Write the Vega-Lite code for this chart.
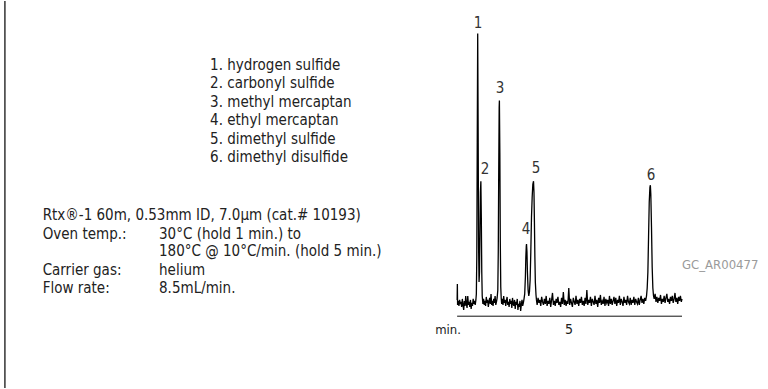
{
  "$schema": "https://vega.github.io/schema/vega-lite/v6.json",
  "width": 768,
  "height": 389,
  "padding": 0,
  "autosize": {"type": "fit", "contains": "padding"},
  "background": "white",
  "config": {"view": {"stroke": null}, "text": {"font": "DejaVu Sans Condensed, sans-serif"}},
  "datasets": {
    "trace": [
      {"t":0.05,"s":2},{"t":0.06,"s":18},{"t":0.07,"s":-3},{"t":0.10,"s":1},{"t":0.13,"s":-4},{"t":0.16,"s":2},{"t":0.19,"s":-2},{"t":0.22,"s":0},{"t":0.25,"s":-5},{"t":0.28,"s":3},{"t":0.31,"s":-3},{"t":0.34,"s":-8},{"t":0.37,"s":1},{"t":0.40,"s":-4},{"t":0.43,"s":6},{"t":0.46,"s":-2},{"t":0.49,"s":-6},{"t":0.52,"s":6},{"t":0.55,"s":-3},{"t":0.58,"s":0},{"t":0.61,"s":-5},{"t":0.64,"s":2},{"t":0.67,"s":-7},{"t":0.70,"s":-1},{"t":0.73,"s":-4},{"t":0.76,"s":3},{"t":0.79,"s":-2},{"t":0.82,"s":1},{"t":0.85,"s":-3},{"t":0.88,"s":2},
      {"t":0.90,"s":8},{"t":0.92,"s":45},{"t":0.94,"s":160},{"t":0.96,"s":269},{"t":0.98,"s":170},{"t":1.00,"s":55},{"t":1.02,"s":20},{"t":1.04,"s":30},{"t":1.06,"s":70},{"t":1.08,"s":110},{"t":1.10,"s":121},{"t":1.12,"s":85},{"t":1.14,"s":30},{"t":1.16,"s":6},{"t":1.19,"s":-2},
      {"t":1.22,"s":3},{"t":1.25,"s":-3},{"t":1.28,"s":1},{"t":1.31,"s":-4},{"t":1.34,"s":5},{"t":1.37,"s":-1},{"t":1.40,"s":2},{"t":1.43,"s":-5},{"t":1.46,"s":0},{"t":1.49,"s":4},{"t":1.52,"s":-2},{"t":1.55,"s":8},{"t":1.58,"s":-3},{"t":1.61,"s":1},{"t":1.64,"s":-4},{"t":1.67,"s":3},{"t":1.70,"s":-1},{"t":1.73,"s":6},{"t":1.76,"s":-3},{"t":1.79,"s":0},{"t":1.82,"s":4},
      {"t":1.85,"s":12},{"t":1.87,"s":50},{"t":1.89,"s":130},{"t":1.91,"s":195},{"t":1.92,"s":202},{"t":1.94,"s":150},{"t":1.96,"s":60},{"t":1.98,"s":15},{"t":2.00,"s":4},{"t":2.02,"s":-2},
      {"t":2.05,"s":3},{"t":2.08,"s":-3},{"t":2.11,"s":6},{"t":2.14,"s":-1},{"t":2.17,"s":2},{"t":2.20,"s":-4},{"t":2.23,"s":1},{"t":2.26,"s":5},{"t":2.29,"s":-3},{"t":2.32,"s":0},{"t":2.35,"s":-5},{"t":2.38,"s":3},{"t":2.41,"s":-2},{"t":2.44,"s":1},{"t":2.47,"s":-6},{"t":2.50,"s":4},{"t":2.53,"s":-2},{"t":2.56,"s":-4},{"t":2.59,"s":2},{"t":2.62,"s":-7},{"t":2.65,"s":0},{"t":2.68,"s":-3},{"t":2.71,"s":3},{"t":2.74,"s":-8},{"t":2.77,"s":-2},{"t":2.80,"s":-5},{"t":2.83,"s":1},{"t":2.86,"s":-9},{"t":2.89,"s":-3},{"t":2.92,"s":2},{"t":2.95,"s":-4},{"t":2.98,"s":-1},{"t":3.01,"s":3},
      {"t":3.04,"s":8},{"t":3.07,"s":25},{"t":3.09,"s":45},{"t":3.11,"s":56},{"t":3.12,"s":58},{"t":3.14,"s":50},{"t":3.16,"s":30},{"t":3.19,"s":12},{"t":3.22,"s":6},{"t":3.25,"s":10},{"t":3.28,"s":22},{"t":3.31,"s":50},{"t":3.34,"s":85},{"t":3.37,"s":105},{"t":3.40,"s":118},{"t":3.43,"s":121},{"t":3.45,"s":110},{"t":3.47,"s":80},{"t":3.49,"s":45},{"t":3.51,"s":20},{"t":3.54,"s":7},{"t":3.56,"s":2},
      {"t":3.59,"s":-3},{"t":3.63,"s":4},{"t":3.67,"s":-1},{"t":3.71,"s":2},{"t":3.75,"s":-4},{"t":3.79,"s":5},{"t":3.83,"s":0},{"t":3.87,"s":-3},{"t":3.91,"s":3},{"t":3.95,"s":-2},{"t":3.99,"s":6},{"t":4.03,"s":-4},{"t":4.07,"s":1},{"t":4.11,"s":-2},{"t":4.15,"s":4},{"t":4.19,"s":-5},{"t":4.23,"s":2},{"t":4.27,"s":9},{"t":4.31,"s":-3},{"t":4.35,"s":1},{"t":4.39,"s":-4},{"t":4.43,"s":3},{"t":4.47,"s":-1},{"t":4.51,"s":5},{"t":4.55,"s":-3},{"t":4.59,"s":0},{"t":4.63,"s":-5},{"t":4.67,"s":4},{"t":4.71,"s":-2},{"t":4.75,"s":10},{"t":4.79,"s":-3},{"t":4.83,"s":2},{"t":4.87,"s":-4},{"t":4.91,"s":1},{"t":4.95,"s":-2},{"t":4.99,"s":14},{"t":5.03,"s":-3},{"t":5.07,"s":3},{"t":5.11,"s":-1},{"t":5.15,"s":-5},{"t":5.19,"s":4},{"t":5.23,"s":0},{"t":5.27,"s":-3},{"t":5.31,"s":6},{"t":5.35,"s":-2},{"t":5.39,"s":2},{"t":5.43,"s":-4},{"t":5.47,"s":3},{"t":5.51,"s":-1},{"t":5.55,"s":5},{"t":5.59,"s":-3},{"t":5.63,"s":1},{"t":5.67,"s":-4},{"t":5.71,"s":4},{"t":5.75,"s":-2},{"t":5.79,"s":12},{"t":5.83,"s":-3},{"t":5.87,"s":2},{"t":5.91,"s":-1},{"t":5.95,"s":5},{"t":5.99,"s":-4},{"t":6.03,"s":3},{"t":6.07,"s":0},{"t":6.11,"s":-3},{"t":6.15,"s":6},{"t":6.19,"s":-2},{"t":6.23,"s":2},{"t":6.27,"s":-5},{"t":6.31,"s":4},{"t":6.35,"s":-1},{"t":6.39,"s":7},{"t":6.43,"s":-3},{"t":6.47,"s":1},{"t":6.51,"s":-2},{"t":6.55,"s":5},{"t":6.59,"s":-4},{"t":6.63,"s":3},{"t":6.67,"s":-1},{"t":6.71,"s":2},{"t":6.75,"s":-4},{"t":6.79,"s":6},{"t":6.83,"s":-2},{"t":6.87,"s":3},{"t":6.91,"s":-3},{"t":6.95,"s":1},{"t":6.99,"s":5},{"t":7.03,"s":-2},{"t":7.07,"s":4},{"t":7.11,"s":-4},{"t":7.15,"s":2},{"t":7.19,"s":-1},{"t":7.23,"s":6},{"t":7.27,"s":-3},{"t":7.31,"s":3},{"t":7.35,"s":0},{"t":7.39,"s":-4},{"t":7.43,"s":5},{"t":7.47,"s":-1},{"t":7.51,"s":2},{"t":7.55,"s":-3},{"t":7.59,"s":6},{"t":7.63,"s":0},{"t":7.67,"s":-2},{"t":7.71,"s":4},{"t":7.75,"s":-3},{"t":7.79,"s":2},{"t":7.83,"s":-1},{"t":7.87,"s":5},{"t":7.91,"s":-3},{"t":7.95,"s":3},{"t":7.99,"s":0},{"t":8.03,"s":-2},{"t":8.07,"s":4},{"t":8.11,"s":-3},{"t":8.15,"s":2},{"t":8.19,"s":6},{"t":8.23,"s":-1},{"t":8.27,"s":3},{"t":8.31,"s":-2},{"t":8.35,"s":4},{"t":8.39,"s":1},{"t":8.43,"s":6},
      {"t":8.46,"s":14},{"t":8.49,"s":30},{"t":8.52,"s":65},{"t":8.55,"s":100},{"t":8.58,"s":115},{"t":8.60,"s":117},{"t":8.62,"s":108},{"t":8.65,"s":75},{"t":8.68,"s":35},{"t":8.71,"s":14},{"t":8.74,"s":6},
      {"t":8.77,"s":3},{"t":8.81,"s":8},{"t":8.85,"s":0},{"t":8.89,"s":5},{"t":8.93,"s":-1},{"t":8.97,"s":4},{"t":9.01,"s":1},{"t":9.05,"s":7},{"t":9.09,"s":-2},{"t":9.13,"s":3},{"t":9.17,"s":0},{"t":9.21,"s":6},{"t":9.25,"s":-1},{"t":9.29,"s":4},{"t":9.33,"s":8},{"t":9.37,"s":0},{"t":9.41,"s":3},{"t":9.45,"s":-2},{"t":9.49,"s":5},{"t":9.53,"s":1},{"t":9.57,"s":6},{"t":9.61,"s":-1},{"t":9.65,"s":3},{"t":9.69,"s":9},{"t":9.73,"s":0},{"t":9.77,"s":4},{"t":9.81,"s":-2},{"t":9.85,"s":5},{"t":9.89,"s":1},{"t":9.93,"s":6},{"t":9.97,"s":0},{"t":10.0,"s":3}
    ],
    "ticks": [{"t":1},{"t":2},{"t":3},{"t":4},{"t":5},{"t":6},{"t":7},{"t":8},{"t":9}],
    "peaks": [
      {"t":0.97,"s":279.7,"label":"1"},{"t":1.28,"s":133.7,"label":"2"},{"t":1.95,"s":214.7,"label":"3"},
      {"t":3.10,"s":72.7,"label":"4"},{"t":3.54,"s":134.7,"label":"5"},{"t":8.63,"s":127.7,"label":"6"}
    ],
    "notes": [
      {"t":-10.88,"s":237.7,"label":"1. hydrogen sulfide"},
      {"t":-10.88,"s":219.2,"label":"2. carbonyl sulfide"},
      {"t":-10.88,"s":200.7,"label":"3. methyl mercaptan"},
      {"t":-10.88,"s":182.2,"label":"4. ethyl mercaptan"},
      {"t":-10.88,"s":163.7,"label":"5. dimethyl sulfide"},
      {"t":-10.88,"s":145.2,"label":"6. dimethyl disulfide"},
      {"t":-18.29,"s":86.7,"label":"Rtx®-1 60m, 0.53mm ID, 7.0µm (cat.# 10193)"},
      {"t":-18.29,"s":68.4,"label":"Oven temp.:"},
      {"t":-13.14,"s":68.4,"label":"30°C (hold 1 min.) to"},
      {"t":-13.14,"s":50.7,"label":"180°C @ 10°C/min. (hold 5 min.)"},
      {"t":-18.29,"s":32.2,"label":"Carrier gas:"},
      {"t":-13.14,"s":32.2,"label":"helium"},
      {"t":-18.29,"s":14.2,"label":"Flow rate:"},
      {"t":-13.14,"s":14.2,"label":"8.5mL/min."}
    ]
  },
  "encoding": {
    "x": {"field": "t", "type": "quantitative", "axis": null, "scale": {"domain": [-20.177, 13.805], "nice": false, "zero": false}},
    "y": {"field": "s", "type": "quantitative", "axis": null, "scale": {"domain": [-87.3, 301.7], "nice": false, "zero": false}}
  },
  "layer": [
    {
      "data": {"values": [{"t": -19.96, "s": 301.7, "s2": -86.3}]},
      "mark": {"type": "rule", "color": "#333333", "strokeWidth": 1.5},
      "encoding": {"y2": {"field": "s2"}}
    },
    {
      "data": {"name": "trace"},
      "mark": {"type": "line", "color": "#000000", "strokeWidth": 1.3, "interpolate": "linear"}
    },
    {
      "data": {"values": [{"t": 0.05, "t2": 10.0, "s": -14.3}]},
      "mark": {"type": "rule", "color": "#111111", "strokeWidth": 1},
      "encoding": {"x2": {"field": "t2"}}
    },
    {
      "data": {"name": "ticks"},
      "mark": {"type": "rule", "color": "#111111", "strokeWidth": 1},
      "encoding": {"y": {"datum": -14.3}, "y2": {"datum": -17}}
    },
    {
      "data": {"name": "peaks"},
      "mark": {"type": "text", "fontSize": 15, "color": "#333333", "align": "center", "baseline": "middle"},
      "encoding": {"text": {"field": "label"}}
    },
    {
      "data": {"name": "notes"},
      "mark": {"type": "text", "fontSize": 15, "color": "#222222", "align": "left", "baseline": "middle"},
      "encoding": {"text": {"field": "label"}}
    },
    {
      "data": {"values": [{"t": 0.22, "s": -28.3, "label": "min."}]},
      "mark": {"type": "text", "fontSize": 13, "color": "#222222", "align": "right", "baseline": "middle"},
      "encoding": {"text": {"field": "label"}}
    },
    {
      "data": {"values": [{"t": 5, "s": -28.3, "label": "5"}]},
      "mark": {"type": "text", "fontSize": 14, "color": "#222222", "align": "center", "baseline": "middle"},
      "encoding": {"text": {"field": "label"}}
    },
    {
      "data": {"values": [{"t": 10.0, "s": 36.7, "label": "GC_AR00477"}]},
      "mark": {"type": "text", "fontSize": 13, "color": "#9a9a9a", "align": "left", "baseline": "middle"},
      "encoding": {"text": {"field": "label"}}
    }
  ]
}
